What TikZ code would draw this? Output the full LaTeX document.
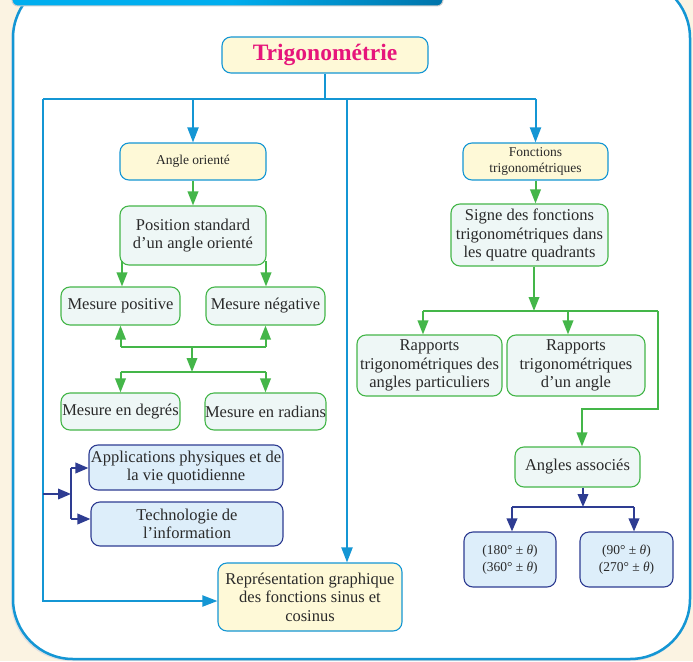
\documentclass[tikz,border=0pt]{standalone}
\usepackage{fontspec}
\setmainfont{Liberation Serif}
\usetikzlibrary{arrows.meta,calc}
\definecolor{bgc}{HTML}{FBF3E2}
\definecolor{cyanl}{HTML}{1496D4}
\definecolor{grn}{HTML}{44B649}
\definecolor{navy}{HTML}{2E3C92}
\definecolor{yel}{HTML}{FEF9D7}
\definecolor{gfill}{HTML}{EEF7F6}
\definecolor{nfill}{HTML}{DDEEFA}
\definecolor{txt}{HTML}{2A2A2A}
\definecolor{mag}{HTML}{E6157B}
\definecolor{hdA}{HTML}{00AEEF}
\definecolor{hdB}{HTML}{0074AA}
\tikzset{
  base/.style={rounded corners=9pt, line width=1.1pt, align=center, inner sep=0pt, text=txt,
    font=\fontsize{16.5}{18.5}\selectfont},
  small/.style={font=\fontsize{13.5}{16.5}\selectfont},
  tiny/.style={font=\fontsize{13.5}{17}\selectfont},
  ybox/.style={base, draw=cyanl, fill=yel},
  gbox/.style={base, draw=grn, fill=gfill},
  nbox/.style={base, draw=navy, fill=nfill},
  bline/.style={draw=cyanl, line width=2pt},
  barr/.style={bline, -{Triangle[length=15pt,width=11pt]}},
  gline/.style={draw=grn, line width=2pt},
  garr/.style={gline, -{Triangle[length=14pt,width=10.5pt]}},
  nline/.style={draw=navy, line width=2pt},
  narr/.style={nline, -{Triangle[length=13pt,width=10.5pt]}},
}
\begin{document}
\begin{tikzpicture}[x=1pt,y=-1pt]
\useasboundingbox (0,0) rectangle (693,661);
\fill[bgc] (0,0) rectangle (693,661);
% frame
\fill[black!12, rounded corners=60pt] (11,-20) rectangle (690,661);
\draw[cyanl, line width=2.5pt, fill=white, rounded corners=60pt] (13,-22) rectangle (690,659);
% header bar
\shade[left color=hdA, right color=hdB, middle color=hdA, rounded corners=6pt, draw=black!20, line width=1pt] (12,-15) rectangle (443,6);

% nodes
\node[ybox, minimum width=206pt, minimum height=36pt, text=mag, font=\bfseries\fontsize{23.5}{26}\selectfont] (trig) at (325,55) {Trigonométrie};
\node[ybox, small, minimum width=146pt, minimum height=37pt] (ao) at (193,161.5) {Angle orienté};
\node[ybox, small, minimum width=145pt, minimum height=37pt] (ft) at (535.5,161.5) {Fonctions\\trigonométriques};
\node[gbox, minimum width=146pt, minimum height=59pt] (ps) at (193,235.5) {Position standard\\d’un angle orienté};
\node[gbox, minimum width=157pt, minimum height=62pt] (sg) at (529.5,235) {Signe des fonctions\\trigonométriques dans\\les quatre quadrants};
\node[gbox, minimum width=119pt, minimum height=38pt] (mp) at (120.5,306) {Mesure positive};
\node[gbox, minimum width=119pt, minimum height=38pt] (mn) at (265.5,306) {Mesure négative};
\node[gbox, minimum width=119pt, minimum height=37pt] (md) at (120.5,411.5) {Mesure en degrés};
\node[gbox, minimum width=119pt, minimum height=37pt] (mr) at (265.5,411.5) {Mesure en radians};
\node[gbox, minimum width=145pt, minimum height=61pt] (r1) at (429.5,365.5) {Rapports\\trigonométriques des\\angles particuliers};
\node[gbox, minimum width=138pt, minimum height=61pt] (r2) at (576,365.5) {Rapports\\trigonométriques\\d’un angle};
\node[gbox, minimum width=125pt, minimum height=40pt] (aa) at (577.5,467) {Angles associés};
\node[nbox, minimum width=194pt, minimum height=45pt] (ap) at (186,467.5) {Applications physiques et de\\la vie quotidienne};
\node[nbox, minimum width=192pt, minimum height=44pt] (te) at (187,524) {Technologie de\\l’information};
\node[ybox, minimum width=184pt, minimum height=68pt] (rep) at (310,597) {Représentation graphique\\des fonctions sinus et\\cosinus};
\node[nbox, tiny, minimum width=92pt, minimum height=55pt] (t1) at (510,559.5) {(180° ± {\itshape θ})\\(360° ± {\itshape θ})};
\node[nbox, tiny, minimum width=93pt, minimum height=55pt] (t2) at (626.5,559.5) {(90° ± {\itshape θ})\\(270° ± {\itshape θ})};

% blue tree
\coordinate (bt) at (trig.south |- 0,99);
\coordinate (bl) at (43,99);
\coordinate (br) at (ft.north |- 0,99);
\coordinate (bm) at (347,99);
\draw[bline] (trig.south) -- (bt);
\draw[bline] (bl) -- (br);
\draw[barr] (ao.north |- bt) -- (ao.north);
\draw[barr] (br) -- (ft.north);
\draw[barr] (bm) -- (bm |- rep.north);
\coordinate (bll) at (43,601);
\draw[barr] (bl) -- (bll) -- (bll -| rep.west);

% green left
\draw[garr] (ao.south) -- (ps.north);
\coordinate (psl) at (122,261);
\coordinate (psr) at (266,261);
\draw[garr] (psl) -- (psl |- mp.north);
\draw[garr] (psr) -- (psr |- mn.north);
\coordinate (j1) at (192,347);
\coordinate (j2) at (192,372);
\draw[gline] (mp.south |- j1) -- (mn.south |- j1);
\draw[garr] (mp.south |- j1) -- (mp.south);
\draw[garr] (mn.south |- j1) -- (mn.south);
\draw[garr] (j1) -- (j2);
\draw[gline] (md.north |- j2) -- (mr.north |- j2);
\draw[garr] (md.north |- j2) -- (md.north);
\draw[garr] (mr.north |- j2) -- (mr.north);

% green right
\draw[garr] (ft.south) -- (ft.south |- sg.north);
\coordinate (k1) at (534,311);
\coordinate (k1l) at (423,311);
\coordinate (k1m) at (568,311);
\coordinate (k1r) at (658,311);
\coordinate (k2r) at (658,409);
\coordinate (k2l) at (582,409);
\draw[garr] (k1 |- sg.south) -- (k1);
\draw[gline] (k1l) -- (k1r);
\draw[garr] (k1l) -- (k1l |- r1.north);
\draw[garr] (k1m) -- (k1m |- r2.north);
\draw[garr] (k1r) -- (k2r) -- (k2l) -- (k2l |- aa.north);

% navy right
\coordinate (n1) at (583,507);
\coordinate (n1l) at (512,507);
\coordinate (n1r) at (634,507);
\draw[narr] (n1 |- aa.south) -- (n1);
\draw[nline] (n1l) -- (n1r);
\draw[narr] (n1l) -- (n1l |- t1.north);
\draw[narr] (n1r) -- (n1r |- t2.north);

% navy left
\coordinate (m0) at (43,494);
\coordinate (m1) at (71,494);
\coordinate (m2) at (71,468);
\coordinate (m3) at (71,519);
\draw[narr] (m0) -- (m1);
\draw[nline] (m2) -- (m3);
\draw[narr] (m2) -- (m2 -| ap.west);
\draw[narr] (m3) -- (m3 -| te.west);
\end{tikzpicture}
\end{document}
